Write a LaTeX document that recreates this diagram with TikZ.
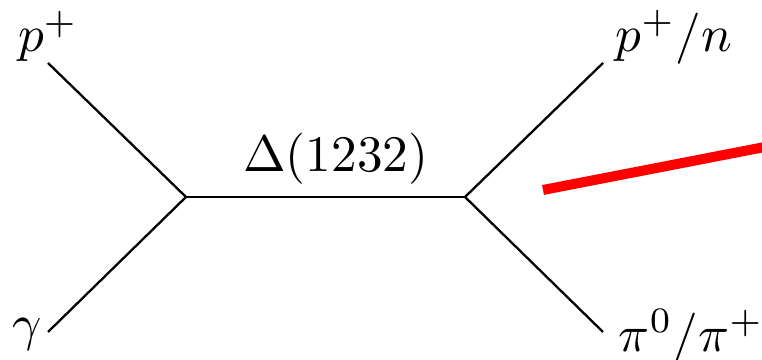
\documentclass[tikz,border=0pt]{standalone}
\usepackage{amsmath,amssymb}
\usepackage{tikz}

\begin{document}
\begin{tikzpicture}[x=0.1953pt,y=-0.1953pt,
  line/.style={line width=0.45pt},
  lbl/.style={inner sep=0pt}]
\useasboundingbox (0,0) rectangle (762,360);
% vertices and external legs
\coordinate (vl) at (186,197);
\coordinate (vr) at (465,197);
\coordinate (pin) at (48,63);
\coordinate (gin) at (48,332);
\coordinate (pout) at (603,63);
\coordinate (piout) at (603,332);
\draw[line] (pin) -- (vl);
\draw[line] (gin) -- (vl);
\draw[line] (vl) -- node[lbl, above=2.3pt, xshift=2pt] (delta) {$\Delta(1232)$} (vr);
\draw[line] (vr) -- (pout);
\draw[line] (vr) -- (piout);
% labels
\node[lbl, anchor=south] (pinlbl) at (pin) {$p^+$};
\node[inner sep=1pt, anchor=east, yshift=-0.5pt] (ginlbl) at (gin) {$\gamma$};
\node[lbl, anchor=south west, xshift=2.3pt, yshift=-0.4pt] (poutlbl) at (pout) {$p^+/n$};
\node[lbl, anchor=west, xshift=2.9pt, yshift=-1pt] (pioutlbl) at (piout) {$\pi^0/\pi^+$};
% red stroke
\draw[red, line width=1.95pt] (543,190) -- (770,146);
\end{tikzpicture}
\end{document}
